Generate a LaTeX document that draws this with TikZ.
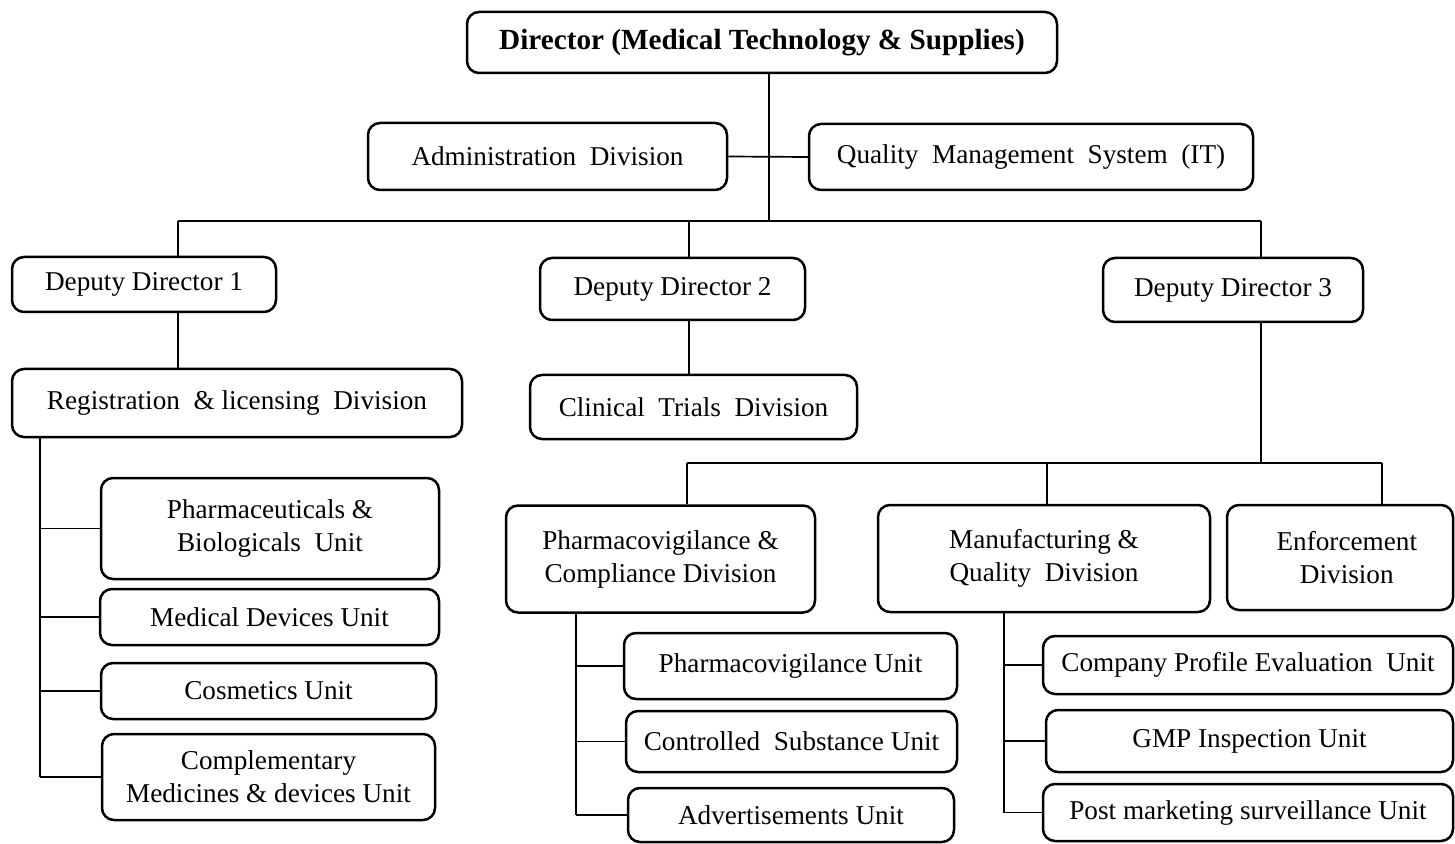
\documentclass[tikz,border=0pt]{standalone}
\usepackage{fontspec}
\setmainfont{Liberation Serif}

\tikzset{
	unitbox/.style={draw, line width=1.25pt, rounded corners=6pt, inner sep=0pt, align=center,
		font=\fontsize{13.6}{16.5}\selectfont},
	link/.style={line width=0.85pt}
}

\begin{document}
\begin{tikzpicture}[x=0.5pt, y=-0.5pt]
	\useasboundingbox (0,0) rectangle (1455,844);

	% top of the chart
	\node[unitbox, minimum width=295pt, minimum height=30.5pt, font=\fontsize{14.6}{16}\selectfont\bfseries] (dir) at (762,42.5) {Director (Medical Technology \& Supplies)};
	\node[unitbox, minimum width=179.5pt, minimum height=33.5pt] (admin) at (547.5,156.5) {Administration~~Division};
	\node[unitbox, minimum width=222pt, minimum height=33pt] (qms) at (1031,157) {Quality~~Management~~System~~(IT)};

	\node[unitbox, minimum width=132pt, minimum height=27.5pt] (dd1) at (144,284.5) {Deputy Director 1};
	\node[unitbox, minimum width=132.5pt, minimum height=31pt] (dd2) at (672.5,289) {Deputy Director 2};
	\node[unitbox, minimum width=130pt, minimum height=32pt] (dd3) at (1233,290) {Deputy Director 3};

	\node[unitbox, minimum width=225pt, minimum height=34pt] (reg) at (237,403) {Registration~~\&~licensing~~Division};
	\node[unitbox, minimum width=163.5pt, minimum height=32pt] (ct) at (693.5,407) {Clinical~~Trials~~Division};

	% registration units
	\node[unitbox, minimum width=169pt, minimum height=50.5pt] (pbu) at (270,528.5) {Pharmaceuticals \&\\Biologicals~~Unit};
	\node[unitbox, minimum width=169.5pt, minimum height=28pt] (mdu) at (269.5,617) {Medical Devices Unit};
	\node[unitbox, minimum width=167.5pt, minimum height=28pt] (cosu) at (268.5,691) {Cosmetics Unit};
	\node[unitbox, minimum width=166.5pt, minimum height=43pt] (cmdu) at (268.5,777) {Complementary\\Medicines \& devices Unit};

	% divisions under deputy director 3
	\node[unitbox, minimum width=154.5pt, minimum height=53.5pt] (pcd) at (660.5,559) {Pharmacovigilance \&\\Compliance Division};
	\node[unitbox, minimum width=166pt, minimum height=53.5pt] (mqd) at (1044,558.5) {Manufacturing \&\\Quality~~Division};
	\node[unitbox, minimum width=113pt, minimum height=52.5pt] (enf) at (1340,557.5) {~~Enforcement\\~~Division};

	\node[unitbox, minimum width=166.5pt, minimum height=33pt] (pvu) at (790.5,666) {Pharmacovigilance Unit};
	\node[unitbox, minimum width=165.5pt, minimum height=30.5pt] (csu) at (791.5,741.5) {Controlled~~Substance Unit};
	\node[unitbox, minimum width=163pt, minimum height=27pt] (adu) at (791,815) {Advertisements Unit};

	\node[unitbox, minimum width=205pt, minimum height=29pt] (cpeu) at (1248,665) {Company Profile Evaluation~~Unit};
	\node[unitbox, minimum width=203.5pt, minimum height=31pt] (gmpu) at (1249.5,741) {GMP Inspection Unit};
	\node[unitbox, minimum width=205pt, minimum height=28.5pt] (pmsu) at (1248,812.5) {Post marketing surveillance Unit};

	% bus lines
	\coordinate (hub) at (769,221);
	\coordinate (busL) at (178,221);
	\coordinate (busM) at (689,221);
	\coordinate (busR) at (1261,221);
	\draw[link] (dir.south -| hub) -- (hub);
	\draw[link] (admin.east) -- (qms.west);
	\draw[link] (busL) -- (busR);
	\draw[link] (busL) -- (busL |- dd1.north);
	\draw[link] (busM) -- (busM |- dd2.north);
	\draw[link] (busR) -- (busR |- dd3.north);
	\draw[link] (dd1.south -| busL) -- (reg.north -| busL);
	\draw[link] (dd2.south -| busM) -- (ct.north -| busM);

	\coordinate (bus2) at (1261,463);
	\coordinate (bus2L) at (687,463);
	\coordinate (bus2M) at (1047,463);
	\coordinate (bus2R) at (1382,463);
	\draw[link] (dd3.south -| bus2) -- (bus2);
	\draw[link] (bus2L) -- (bus2R);
	\draw[link] (bus2L) -- (bus2L |- pcd.north);
	\draw[link] (bus2M) -- (bus2M |- mqd.north);
	\draw[link] (bus2R) -- (bus2R |- enf.north);

	% trunks down to the units
	\coordinate (regtrunk) at (40,777);
	\draw[link] (reg.south -| regtrunk) -- (regtrunk);
	\foreach \u in {pbu,mdu,cosu,cmdu}
		\draw[link] (\u.west) -- (\u.west -| regtrunk);

	\coordinate (pctrunk) at (576,815);
	\draw[link] (pcd.south -| pctrunk) -- (pctrunk);
	\foreach \u in {pvu,csu,adu}
		\draw[link] (\u.west) -- (\u.west -| pctrunk);

	\coordinate (mqtrunk) at (1004,812.5);
	\draw[link] (mqd.south -| mqtrunk) -- (mqtrunk);
	\foreach \u in {cpeu,gmpu,pmsu}
		\draw[link] (\u.west) -- (\u.west -| mqtrunk);
\end{tikzpicture}
\end{document}
